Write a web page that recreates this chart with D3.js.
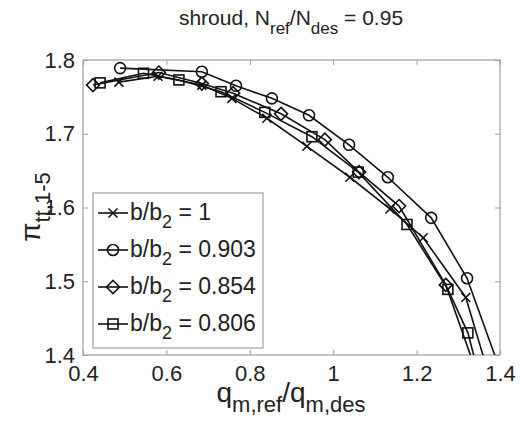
<!DOCTYPE html>
<html><head><meta charset="utf-8">
<script src="https://cdn.jsdelivr.net/npm/d3@7"></script>
<style>body{margin:0;background:#fff}svg{font-family:"Liberation Sans",Arial,sans-serif}</style>
</head><body><svg id="c" width="520" height="426"></svg>
<script>
const seriesNames = ["1", "0.903", "0.854", "0.806"];
const markers = ["cross", "circle", "diamond", "square"];
const s1 = [[0.486,1.770],[0.58,1.778],[0.685,1.766],[0.757,1.748],[0.841,1.721],[0.937,1.683],[1.04,1.641],[1.136,1.598],[1.216,1.559],[1.318,1.478],[1.38,1.36]];
const s0903 = [[0.489,1.789],[0.685,1.784],[0.767,1.765],[0.853,1.748],[0.942,1.725],[1.038,1.685],[1.131,1.641],[1.235,1.586],[1.321,1.504],[1.40,1.38]];
const s0854 = [[0.424,1.766],[0.582,1.783],[0.685,1.768],[0.76,1.755],[0.875,1.727],[0.98,1.692],[1.062,1.648],[1.158,1.602],[1.27,1.495],[1.36,1.35]];
const s0806 = [[0.441,1.769],[0.545,1.782],[0.63,1.773],[0.731,1.757],[0.836,1.729],[0.949,1.696],[1.06,1.648],[1.177,1.577],[1.275,1.489],[1.323,1.43],[1.36,1.35]];
const seriesData = [s1, s0903, s0854, s0806];
const xTicks = [0.4, 0.6, 0.8, 1, 1.2, 1.4];
const yTicks = [1.4, 1.5, 1.6, 1.7, 1.8];

const svg = d3.select("#c");
const L = 83, R = 500, T = 60, B = 355;
const x = d3.scaleLinear().domain([0.4, 1.4]).range([L, R]);
const y = d3.scaleLinear().domain([1.4, 1.8]).range([B, T]);

svg.append("defs").append("clipPath").attr("id","clip")
  .append("rect").attr("x",L).attr("y",T).attr("width",R-L).attr("height",B-T);

svg.append("rect").attr("x",L).attr("y",T).attr("width",R-L).attr("height",B-T)
  .attr("fill","none").attr("stroke","#a0a0a0").attr("stroke-width",1.2);

const xa = svg.append("g").attr("transform",`translate(0,${B})`)
  .call(d3.axisBottom(x).tickValues(xTicks).tickSizeInner(-5).tickSizeOuter(0).tickPadding(10).tickFormat(d3.format("")));
xa.select(".domain").remove();
xa.selectAll("line").attr("stroke","#a0a0a0");
xa.selectAll("text").attr("font-size",22).attr("fill","#222").attr("font-family","Liberation Sans, Arial");
const xt = svg.append("g").attr("transform",`translate(0,${T})`)
  .call(d3.axisTop(x).tickValues(xTicks).tickSizeInner(-5).tickSizeOuter(0).tickFormat(""));
xt.select(".domain").remove(); xt.selectAll("line").attr("stroke","#a0a0a0");

const ya = svg.append("g").attr("transform",`translate(${L},0)`)
  .call(d3.axisLeft(y).tickValues(yTicks).tickSizeInner(-5).tickSizeOuter(0).tickPadding(8).tickFormat(d3.format("")));
ya.select(".domain").remove();
ya.selectAll("line").attr("stroke","#a0a0a0");
ya.selectAll("text").attr("font-size",22).attr("fill","#222").attr("font-family","Liberation Sans, Arial");
const yr = svg.append("g").attr("transform",`translate(${R},0)`)
  .call(d3.axisRight(y).tickValues(yTicks).tickSizeInner(-5).tickSizeOuter(0).tickFormat(""));
yr.select(".domain").remove(); yr.selectAll("line").attr("stroke","#a0a0a0");

function drawMarker(g, type, cx, cy) {
  if (type === "circle") g.append("circle").attr("cx",cx).attr("cy",cy).attr("r",5.5);
  else if (type === "square") g.append("rect").attr("x",cx-5).attr("y",cy-5).attr("width",10).attr("height",10);
  else if (type === "diamond") g.append("path").attr("d",`M${cx},${cy-6.5}L${cx+6.5},${cy}L${cx},${cy+6.5}L${cx-6.5},${cy}Z`);
  else if (type === "cross") g.append("path").attr("d",`M${cx-4.5},${cy-4.5}L${cx+4.5},${cy+4.5}M${cx-4.5},${cy+4.5}L${cx+4.5},${cy-4.5}`);
}

const plot = svg.append("g").attr("clip-path","url(#clip)");
const line = d3.line().x(d=>x(d[0])).y(d=>y(d[1]));
seriesData.forEach((data,i)=>{
  const g = plot.append("g").attr("fill","none").attr("stroke","#111").attr("stroke-width",1.6);
  g.append("path").attr("d", line(data));
  data.forEach(d=>{ if (d[1] >= 1.4) drawMarker(g, markers[i], x(d[0]), y(d[1])); });
});

const lg = svg.append("g");
lg.append("rect").attr("x",93).attr("y",193).attr("width",170).attr("height",155)
  .attr("fill","#fff").attr("stroke","#a0a0a0").attr("stroke-width",1.2);
seriesNames.forEach((n,i)=>{
  const yy = 213 + i*37;
  const g = lg.append("g").attr("fill","none").attr("stroke","#111").attr("stroke-width",1.6);
  g.append("line").attr("x1",98).attr("x2",128).attr("y1",yy).attr("y2",yy);
  drawMarker(g, markers[i], 113, yy);
  const t = lg.append("text").attr("x",130).attr("y",yy+7).attr("font-size",23).attr("fill","#222");
  t.append("tspan").text("b/b");
  t.append("tspan").attr("font-size",18).attr("dy",8).text("2");
  t.append("tspan").attr("dy",-8).text(" = " + n);
});

const tt = svg.append("text").attr("x",291).attr("y",25).attr("text-anchor","middle").attr("font-size",21).attr("fill","#222");
tt.append("tspan").text("shroud, N");
tt.append("tspan").attr("font-size",17).attr("dy",9).text("ref");
tt.append("tspan").attr("dy",-9).text("/N");
tt.append("tspan").attr("font-size",17).attr("dy",9).text("des");
tt.append("tspan").attr("dy",-9).text(" = 0.95");

const xl = svg.append("text").attr("x",291).attr("y",402).attr("text-anchor","middle").attr("font-size",28).attr("fill","#222");
xl.append("tspan").text("q");
xl.append("tspan").attr("font-size",22).attr("dy",10).text("m,ref");
xl.append("tspan").attr("dy",-10).text("/q");
xl.append("tspan").attr("font-size",22).attr("dy",10).text("m,des");

const yl = svg.append("text").attr("transform","translate(40,207) rotate(-90)").attr("text-anchor","middle").attr("font-size",28).attr("fill","#222");
yl.append("tspan").text("π");
yl.append("tspan").attr("font-size",22).attr("dy",10).text("tt,1-5");
</script></body></html>
